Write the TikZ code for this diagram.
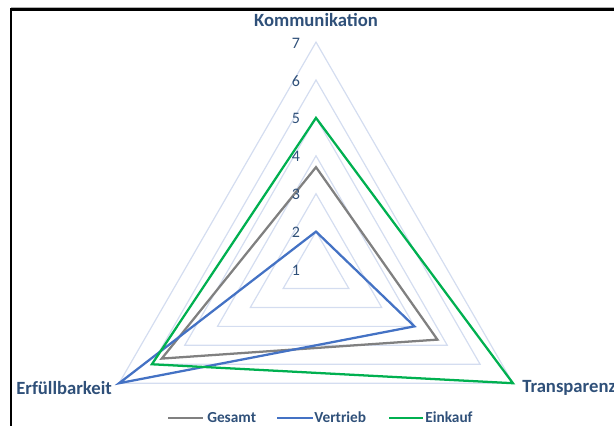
\documentclass[tikz,border=0pt]{standalone}
\usepackage{xcolor}
\usepackage{fontspec}
\setmainfont{Carlito}
\usepackage{tikz}

\definecolor{gridblue}{RGB}{212,221,240}
\definecolor{txtblue}{RGB}{47,80,121}
\definecolor{gesamtgray}{RGB}{128,128,128}
\definecolor{vertriebblue}{RGB}{68,114,196}
\definecolor{einkaufgreen}{RGB}{0,176,80}

\begin{document}
\begin{tikzpicture}[x=0.75pt,y=0.75pt,yscale=-1,xscale=1,
  gridline/.style={draw=gridblue,line width=0.9pt,line join=miter},
  gesamt/.style={draw=gesamtgray,line width=1.7pt,line join=miter},
  vertrieb/.style={draw=vertriebblue,line width=1.7pt,line join=miter},
  einkauf/.style={draw=einkaufgreen,line width=1.7pt,line join=miter},
  axlabel/.style={text=txtblue,font=\fontsize{14}{16}\selectfont\bfseries,inner sep=0.75pt},
  ticklabel/.style={text=txtblue,font=\fontsize{12}{14}\selectfont,inner sep=0.75pt},
  legtext/.style={text=txtblue,font=\fontsize{11.5}{13}\selectfont\bfseries,inner sep=0.75pt,anchor=west}]
\useasboundingbox (0,0) rectangle (614,426);

%Frame
\draw [gray!60,line width=0.8pt]  (11,7.3) -- (614,7.3) ;
\draw [black,line width=1.9pt]  (11,9.3) -- (614,9.3) (11,8.4) -- (11,426) ;

%Shape: Grid triangles (2 to 7)
\draw [gridline]  (316,231.6) -- (283.18,288.45) -- (348.82,288.45) -- cycle ;
\draw [gridline]  (316,193.7) -- (250.36,307.4) -- (381.64,307.4) -- cycle ;
\draw [gridline]  (316,155.8) -- (217.54,326.35) -- (414.46,326.35) -- cycle ;
\draw [gridline]  (316,117.9) -- (184.72,345.3) -- (447.28,345.3) -- cycle ;
\draw [gridline]  (316,80) -- (151.9,364.25) -- (480.1,364.25) -- cycle ;
\draw [gridline]  (316,42.1) -- (119.08,383.2) -- (512.92,383.2) -- cycle ;

%Shape: Series Gesamt
\draw [gesamt]  (316,167.17) -- (161.75,358.57) -- (437.43,339.62) -- cycle ;
%Shape: Series Vertrieb
\draw [vertrieb]  (316,231.6) -- (119.08,383.2) -- (414.46,326.35) -- cycle ;
%Shape: Series Einkauf
\draw [einkauf]  (316,117.9) -- (151.9,364.25) -- (512.92,383.2) -- cycle ;

% Text Node
\node [ticklabel] (tick1) at (296,270.5) {1};
\node [ticklabel] (tick2) at (296,232.6) {2};
\node [ticklabel] (tick3) at (296,194.7) {3};
\node [ticklabel] (tick4) at (296,156.8) {4};
\node [ticklabel] (tick5) at (296,118.9) {5};
\node [ticklabel] (tick6) at (296,81) {6};
\node [ticklabel] (tick7) at (296,43.1) {7};

% Text Node
\node [axlabel] (lblKomm) at (316,20) {Kommunikation};
% Text Node
\node [axlabel,anchor=west] (lblErf) at (15,388) {Erfüllbarkeit};
% Text Node
\node [axlabel,anchor=west] (lblTrans) at (521,387.5) {Transparenz};

%Legend
\draw [gesamt]  (168,418) -- (203,418) ;
\node [legtext] (legGesamt) at (206,417.5) {Gesamt};
\draw [vertrieb]  (277,418) -- (313,418) ;
\node [legtext] (legVertrieb) at (313,417.5) {Vertrieb};
\draw [einkauf]  (389,418) -- (423,418) ;
\node [legtext] (legEinkauf) at (424,417.5) {Einkauf};

\end{tikzpicture}
\end{document}
